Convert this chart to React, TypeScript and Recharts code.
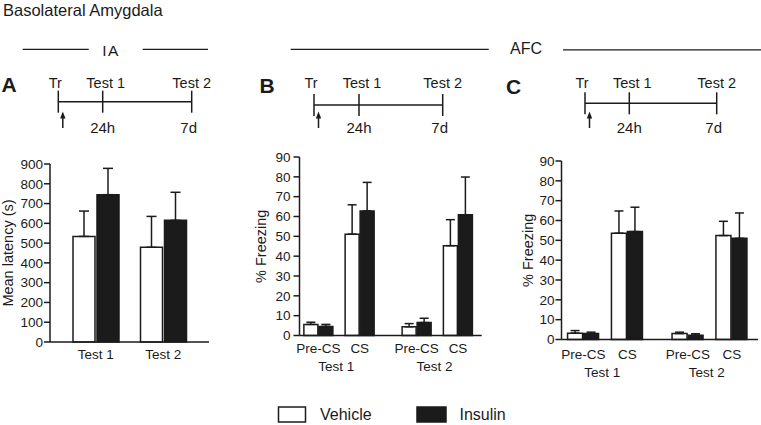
import React from "react";
import { BarChart, Bar, XAxis, YAxis, ErrorBar } from "recharts";

const FONT = '"Liberation Sans", Arial, Helvetica, sans-serif';
const INK = "#1b1b1b";

// A: inhibitory avoidance, latency in seconds
const iaTests = ["Test 1", "Test 2"];
const iaVehicle = [534, 479];
const iaVehicleSem = [128, 156];
const iaInsulin = [745, 615];
const iaInsulinSem = [133, 142];
const latencyTicks = [0, 100, 200, 300, 400, 500, 600, 700, 800, 900];

// B and C: auditory fear conditioning, % freezing
// order: Test 1 Pre-CS, Test 1 CS, Test 2 Pre-CS, Test 2 CS
const afcTests = ["Test 1", "Test 2"];
const afcPhases = ["Pre-CS", "CS"];
const bVehicle = [5.6, 51.1, 4.4, 45.3];
const bVehicleSem = [1.1, 14.8, 1.6, 13.1];
const bInsulin = [4.6, 62.8, 6.5, 60.9];
const bInsulinSem = [1.0, 14.4, 2.2, 19.0];
const cVehicle = [3.2, 53.6, 3.0, 52.4];
const cVehicleSem = [1.3, 11.2, 0.7, 7.2];
const cInsulin = [3.0, 54.4, 2.2, 51.0];
const cInsulinSem = [0.7, 12.3, 0.7, 12.8];
const freezingTicks = [0, 10, 20, 30, 40, 50, 60, 70, 80, 90];

// spacing of the grouped categories on the number axis
const PHASE_STEP = 2.1;
const TEST_STEP = 5;
const TEST_LABEL_AT = 0.9;

const axisStroke = { stroke: INK, strokeWidth: 1.5 };
const tickText = { fill: INK, fontSize: 13.5, fontFamily: FONT };

const iaData = iaTests.map((test, i) => ({
  test,
  vehicle: iaVehicle[i],
  vehicleErr: [0, iaVehicleSem[i]],
  insulin: iaInsulin[i],
  insulinErr: [0, iaInsulinSem[i]],
}));

function afcRows(veh: number[], vehSem: number[], ins: number[], insSem: number[]) {
  return afcTests.flatMap((test, ti) =>
    afcPhases.map((phase, pi) => {
      const i = ti * afcPhases.length + pi;
      return {
        pos: ti * TEST_STEP + pi * PHASE_STEP,
        phase,
        test,
        vehicle: veh[i],
        vehicleErr: [0, vehSem[i]],
        insulin: ins[i],
        insulinErr: [0, insSem[i]],
      };
    })
  );
}

const bData = afcRows(bVehicle, bVehicleSem, bInsulin, bInsulinSem);
const cData = afcRows(cVehicle, cVehicleSem, cInsulin, cInsulinSem);

function AxisTitle(props: any) {
  const { viewBox, value, dx } = props;
  const cx = viewBox.x + dx;
  const cy = viewBox.y + viewBox.height / 2;
  return (
    <text
      x={cx}
      y={cy}
      transform={`rotate(-90 ${cx} ${cy})`}
      textAnchor="middle"
      dominantBaseline="central"
      fontSize={14.5}
      fontFamily={FONT}
      fill={INK}
    >
      {value}
    </text>
  );
}

function seriesBars(size: number, cap: number) {
  return [
    <Bar key="v" dataKey="vehicle" fill="#fff" stroke={INK} strokeWidth={1.5} barSize={size} isAnimationActive={false}>
      <ErrorBar dataKey="vehicleErr" direction="y" width={cap} stroke={INK} strokeWidth={1.5} isAnimationActive={false} />
    </Bar>,
    <Bar key="i" dataKey="insulin" fill={INK} stroke={INK} strokeWidth={1.5} barSize={size} isAnimationActive={false}>
      <ErrorBar dataKey="insulinErr" direction="y" width={cap} stroke={INK} strokeWidth={1.5} isAnimationActive={false} />
    </Bar>,
  ];
}

function LatencyPanel() {
  return (
    <div style={{ position: "absolute", left: 0, top: 150 }}>
      <BarChart width={215} height={216} data={iaData} margin={{ top: 14, right: 6, bottom: 0, left: 0 }} barGap={2}>
        <XAxis
          dataKey="test"
          padding={{ left: 12, right: 12 }}
          height={24}
          tickLine={false}
          axisLine={axisStroke}
          tick={tickText}
          tickSize={6}
          tickMargin={1}
          interval={0}
        />
        <YAxis
          width={50}
          domain={[0, 900]}
          ticks={latencyTicks}
          interval={0}
          tickSize={6}
          tickMargin={1}
          axisLine={axisStroke}
          tickLine={axisStroke}
          tick={tickText}
          label={{ value: "Mean latency (s)", content: (p: any) => <AxisTitle {...p} value="Mean latency (s)" dx={8} /> }}
        />
        {seriesBars(22, 5)}
      </BarChart>
    </div>
  );
}

type FreezingProps = {
  data: ReturnType<typeof afcRows>;
  left: number;
  top: number;
  width: number;
  marginTop: number;
  marginRight: number;
  domain: [number, number];
  barSize: number;
  yTickMargin: number;
  xTickMargin: number;
  titleDx: number;
};

function FreezingPanel(p: FreezingProps) {
  const phaseTicks = p.data.map((d) => d.pos);
  const testTicks = afcTests.map((_, ti) => ti * TEST_STEP + TEST_LABEL_AT);
  const phaseAt = (v: number) => p.data.find((d) => Math.abs(d.pos - v) < 1e-6)?.phase ?? "";
  const testAt = (v: number) => afcTests[testTicks.findIndex((t) => Math.abs(t - v) < 1e-6)] ?? "";
  return (
    <div style={{ position: "absolute", left: p.left, top: p.top }}>
      <BarChart
        width={p.width}
        height={p.marginTop + 178.5 + 42}
        data={p.data}
        margin={{ top: p.marginTop, right: p.marginRight, bottom: 0, left: 0 }}
        barGap={1}
      >
        <XAxis
          dataKey="pos"
          type="number"
          domain={p.domain}
          ticks={phaseTicks}
          interval={0}
          tickFormatter={phaseAt}
          height={18}
          tickLine={false}
          axisLine={axisStroke}
          tick={tickText}
          tickSize={6}
          tickMargin={p.xTickMargin}
        />
        <XAxis
          xAxisId="test"
          dataKey="pos"
          type="number"
          domain={p.domain}
          ticks={testTicks}
          interval={0}
          tickFormatter={testAt}
          height={24}
          tickLine={false}
          axisLine={false}
          tick={tickText}
          tickSize={6}
          tickMargin={p.xTickMargin}
        />
        <YAxis
          width={49.5}
          domain={[0, 90]}
          ticks={freezingTicks}
          interval={0}
          tickSize={6}
          tickMargin={p.yTickMargin}
          axisLine={axisStroke}
          tickLine={axisStroke}
          tick={tickText}
          label={{ value: "% Freezing", content: (lp: any) => <AxisTitle {...lp} value="% Freezing" dx={p.titleDx} /> }}
        />
        {seriesBars(p.barSize, 4.5)}
      </BarChart>
    </div>
  );
}

const timelines = [
  { letter: "A", lx: 1.5, ly: 91.5, tr: 58.3, t1: 102.7, t2: 191.7, y: 101.7 },
  { letter: "B", lx: 259.5, ly: 92.5, tr: 314, t1: 359, t2: 442.7, y: 105 },
  { letter: "C", lx: 506, ly: 93.5, tr: 585, t1: 629.3, t2: 716.7, y: 103.3 },
];

function Decorations() {
  const txt = { fontFamily: FONT, fill: INK } as const;
  return (
    <svg width={761} height={425} style={{ position: "absolute", left: 0, top: 0 }}>
      <text x={3} y={15.5} fontSize={16.5} {...txt}>Basolateral Amygdala</text>

      <line x1={22.7} x2={88.7} y1={49.3} y2={49.3} stroke={INK} strokeWidth={1.3} />
      <text x={111} y={55.5} fontSize={15.5} textAnchor="middle" letterSpacing={1.5} {...txt}>IA</text>
      <line x1={142.7} x2={208} y1={49.3} y2={49.3} stroke={INK} strokeWidth={1.3} />

      <line x1={290.7} x2={488.7} y1={49.3} y2={49.3} stroke={INK} strokeWidth={1.3} />
      <text x={526} y={53.5} fontSize={16} textAnchor="middle" {...txt}>AFC</text>
      <line x1={563} x2={761} y1={49.8} y2={49.8} stroke={INK} strokeWidth={1.3} />

      {timelines.map((t) => (
        <g key={t.letter}>
          <text x={t.lx} y={t.ly} fontSize={21} fontWeight="bold" {...txt}>{t.letter}</text>
          <line x1={t.tr} x2={t.t2} y1={t.y} y2={t.y} stroke={INK} strokeWidth={1.5} />
          {[t.tr, t.t1, t.t2].map((x) => (
            <line key={x} x1={x} x2={x} y1={t.y - 11} y2={t.y + 11} stroke={INK} strokeWidth={1.5} />
          ))}
          <line x1={t.tr + 4.5} x2={t.tr + 4.5} y1={116} y2={128} stroke={INK} strokeWidth={1.5} />
          <polygon
            points={`${t.tr + 1.8},118.5 ${t.tr + 4.5},111.5 ${t.tr + 7.2},118.5`}
            fill={INK}
          />
          <text x={t.tr - 3} y={87.5} fontSize={14.5} textAnchor="middle" {...txt}>Tr</text>
          <text x={t.t1 + 3} y={87.5} fontSize={14.5} textAnchor="middle" {...txt}>Test 1</text>
          <text x={t.t2} y={87.5} fontSize={14.5} textAnchor="middle" {...txt}>Test 2</text>
          <text x={t.t1} y={133} fontSize={15} textAnchor="middle" {...txt}>24h</text>
          <text x={t.t2 - 3} y={133} fontSize={15} textAnchor="middle" {...txt}>7d</text>
        </g>
      ))}

      <rect x={278.5} y={407} width={27} height={15} fill="#fff" stroke={INK} strokeWidth={1.5} />
      <text x={320} y={420} fontSize={16} {...txt}>Vehicle</text>
      <rect x={417} y={407} width={29} height={15} fill={INK} stroke={INK} strokeWidth={1.5} />
      <text x={459.5} y={420} fontSize={16} {...txt}>Insulin</text>
    </svg>
  );
}

export default function App() {
  return (
    <div
      style={{
        position: "absolute",
        left: 0,
        top: 0,
        width: 761,
        height: 425,
        background: "#fff",
        fontFamily: FONT,
        overflow: "hidden",
      }}
    >
      <Decorations />
      <LatencyPanel />
      <FreezingPanel
        data={bData}
        left={250}
        top={145}
        width={238}
        marginTop={12}
        marginRight={6.3}
        domain={[-0.967, 8.305]}
        barSize={14}
        yTickMargin={3}
        xTickMargin={2}
        titleDx={11}
      />
      <FreezingPanel
        data={cData}
        left={512}
        top={148}
        width={249}
        marginTop={13}
        marginRight={3}
        domain={[-1.053, 8.35]}
        barSize={15}
        yTickMargin={1}
        xTickMargin={4}
        titleDx={15.5}
      />
    </div>
  );
}
